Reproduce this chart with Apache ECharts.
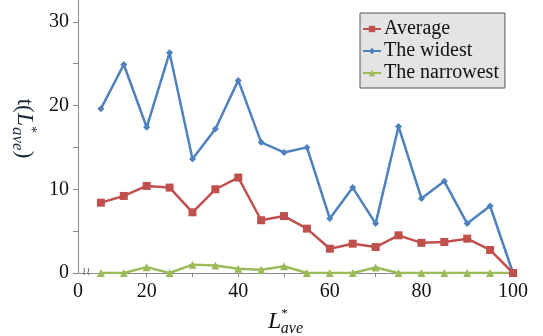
<!DOCTYPE html>
<html>
<head>
<meta charset="utf-8">
<script src="https://cdn.jsdelivr.net/npm/echarts@6/dist/echarts.min.js"></script>
<style>html,body{margin:0;padding:0;background:#fff}#c{width:543px;height:336px}</style>
</head>
<body>
<div id="c"></div>
<script>
var xValues = [10,15,20,25,30,35,40,45,50,55,60,65,70,75,80,85,90,95,100];
var average = [8.4,9.2,10.4,10.2,7.25,10.0,11.4,6.3,6.8,5.3,2.9,3.5,3.1,4.5,3.6,3.7,4.1,2.75,0];
var widest = [19.6,24.9,17.4,26.3,13.6,17.2,23.0,15.6,14.4,15.0,6.5,10.2,5.9,17.5,8.9,10.95,5.9,8.0,0];
var narrowest = [0,0,0.7,0,1.0,0.9,0.5,0.4,0.8,0,0,0,0.65,0,0,0,0,0,0];
var xLabelValues = [5,20,40,60,80,100];
var xTickValues = [10,20,30,40,50,60,70,80,90,100];
var yLabelValues = [0,10,20,30];
var yTickValues = [0,5,10,15,20,25,30];
var seriesNames = ['Average','The widest','The narrowest'];

function pairs(vals){ return xValues.map(function(x,i){ return [x, vals[i]]; }); }

var serif = "'Liberation Serif', 'DejaVu Serif', serif";
var chart = echarts.init(document.getElementById('c'));
chart.setOption({
  animation: false,
  backgroundColor: '#fff',
  grid: {left: 78, right: 30, top: 0, bottom: 63, outerBoundsMode: 'none', containLabel: false},
  legend: {
    orient: 'vertical', left: 360, top: 13,
    padding: [6, 6, 5, 2], itemGap: 2,
    itemWidth: 18, itemHeight: 8,
    backgroundColor: '#e4e4e4', borderColor: '#555', borderWidth: 1,
    textStyle: {fontFamily: serif, fontSize: 20, color: '#111', lineHeight: 20, padding: [0,0,0,-2]},
    data: seriesNames
  },
  xAxis: {
    type: 'value', min: 5, max: 100,
    name: '{l|L}{s|*}{b|ave}', nameLocation: 'middle', nameGap: 16,
    nameTextStyle: {
      padding: [0, 20, 0, 0],
      rich: {
        l: {fontFamily: serif, fontStyle: 'italic', fontSize: 24, color: '#111'},
        s: {fontFamily: serif, fontSize: 13, color: '#111', verticalAlign: 'top', padding: [0,0,12,0]},
        b: {fontFamily: serif, fontStyle: 'italic', fontSize: 16, color: '#111', padding: [14,0,0,-7]}
      }
    },
    axisLine: {lineStyle: {color: '#8a8a8a', width: 1}},
    axisTick: {show: true, length: 4, customValues: xTickValues, lineStyle: {color: '#8a8a8a'}},
    axisLabel: {customValues: xLabelValues, fontFamily: serif, fontSize: 20, color: '#111', margin: 9,
      formatter: function(v){ return v === 5 ? '0' : String(v); }},
    splitLine: {show: false}
  },
  yAxis: {
    type: 'value', min: 0, max: 32.6,
    name: '{a|t(}{l|L}{s|*}{b|ave}{a|)}', nameLocation: 'middle', nameGap: 38, nameRotate: -90,
    nameTextStyle: {
      padding: [0, 16, 0, 0],
      rich: {
        a: {fontFamily: serif, fontSize: 23, color: '#1f2a40'},
        l: {fontFamily: serif, fontStyle: 'italic', fontSize: 24, color: '#1f2a40'},
        s: {fontFamily: serif, fontSize: 14, color: '#1f2a40', padding: [0,0,12,0]},
        b: {fontFamily: serif, fontStyle: 'italic', fontSize: 17, color: '#1f2a40', padding: [14,0,0,-6]}
      }
    },
    axisLine: {show: true, lineStyle: {color: '#8a8a8a', width: 1}},
    axisTick: {show: true, length: 5, customValues: yTickValues, lineStyle: {color: '#8a8a8a'}},
    axisLabel: {customValues: yLabelValues, fontFamily: serif, fontSize: 20, color: '#111', margin: 9},
    splitLine: {show: false}
  },
  graphic: [{
    type: 'text', left: 82, top: 267, z: 10,
    style: {text: '\u2240\u2240', fontSize: 11, fill: '#666', fontFamily: "'DejaVu Sans'"}
  }],
  series: [
    {name: seriesNames[0], type: 'line', data: pairs(average), symbol: 'rect', symbolSize: 8,
     lineStyle: {color: '#c0504d', width: 2.5}, itemStyle: {color: '#c0504d'}, z: 3},
    {name: seriesNames[1], type: 'line', data: pairs(widest), symbol: 'diamond', symbolSize: 7,
     lineStyle: {color: '#4f81bd', width: 2.5}, itemStyle: {color: '#4f81bd'}, z: 2},
    {name: seriesNames[2], type: 'line', data: pairs(narrowest), symbol: 'triangle', symbolSize: 8,
     lineStyle: {color: '#9bbb59', width: 2.5}, itemStyle: {color: '#9bbb59'}, z: 1}
  ]
});
</script>
</body>
</html>
